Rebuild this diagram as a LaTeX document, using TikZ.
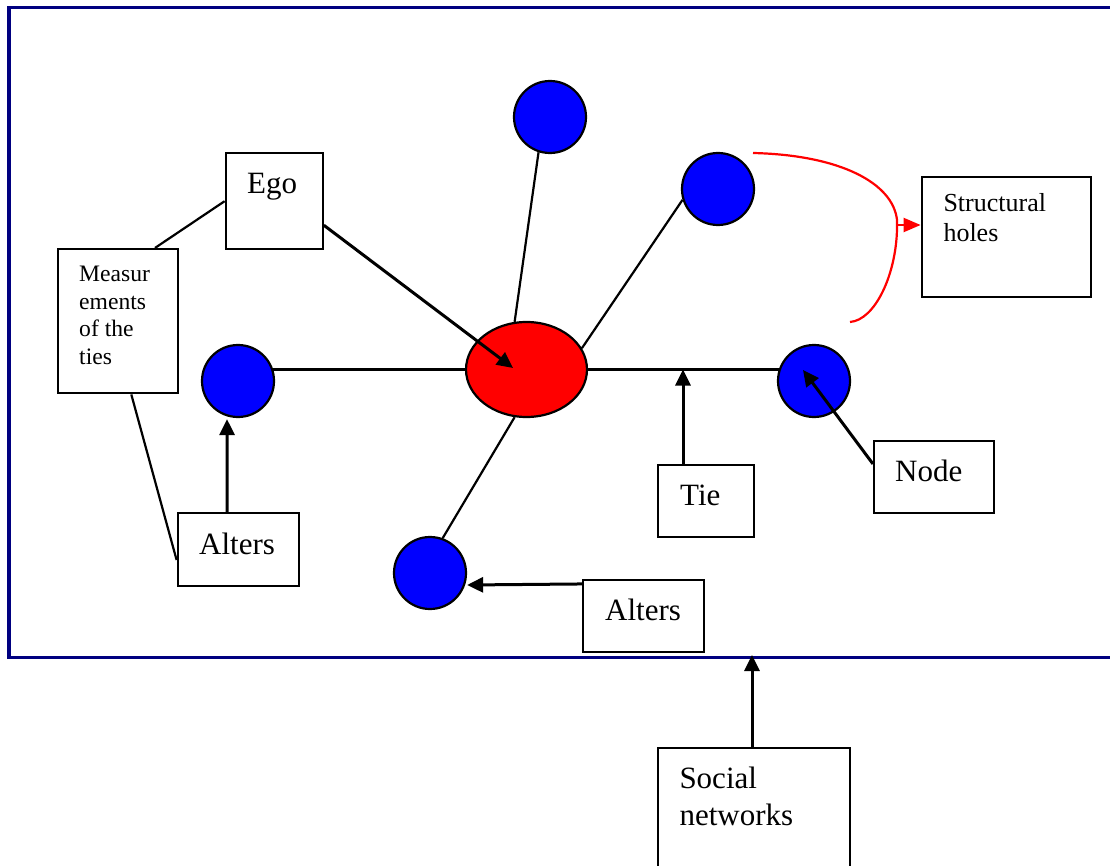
\documentclass[tikz,border=0pt]{standalone}
\usepackage{fontspec}
\setmainfont{Liberation Serif}
\usetikzlibrary{arrows.meta,calc,shapes.geometric,backgrounds}
\definecolor{framenavy}{RGB}{0,0,128}
\definecolor{alterblue}{RGB}{0,0,255}
\definecolor{egored}{RGB}{255,0,0}

\begin{document}
\begin{tikzpicture}[x=1pt,y=-1pt,
  box/.style={draw=black,line width=2.2pt,fill=white,inner sep=0pt},
  alter/.style={circle,draw=black,line width=2.2pt,fill=alterblue,minimum size=72pt,inner sep=0pt},
  egoshape/.style={ellipse,draw=black,line width=2.2pt,fill=egored,minimum width=121pt,minimum height=95pt,inner sep=0pt},
  tieline/.style={line width=2.2pt},
  pointer/.style={line width=3pt,-{Triangle[length=16pt,width=15pt]}},
  holeline/.style={egored,line width=2.2pt},
  holepointer/.style={egored,line width=2.2pt,-{Triangle[length=17pt,width=14pt]}},
  biglbl/.style={anchor=base west,inner sep=0pt,align=left,font=\fontsize{31}{37.5}\selectfont},
  measlbl/.style={anchor=base west,inner sep=0pt,align=left,font=\fontsize{23.6}{27.5}\selectfont},
  holelbl/.style={anchor=base west,inner sep=0pt,align=left,font=\fontsize{26}{30}\selectfont}
]
\useasboundingbox (0,0) rectangle (1110,866);
\clip (0,0) rectangle (1110,866);

% outer frame of the network (open on the right)
\draw[framenavy,line width=3.2pt] (1115,7.5) -- (9,7.5) -- (9,657.7) -- (1115,657.7);

% ego and alters
\node[egoshape] (egoNode) at (526.5,369.5) {};
\node[alter] (altTop) at (550,117) {};
\node[alter] (altUR) at (718,189) {};
\node[alter] (altL) at (238,381) {};
\node[alter] (altR) at (814,381) {};
\node[alter] (altB) at (430,573) {};

% ties
\begin{pgfonlayer}{background}
  \draw[tieline] (egoNode.center -| altL.center) -- (egoNode.center);
  \draw[tieline] (egoNode.center) -- (egoNode.center -| altR.center);
\end{pgfonlayer}
\draw[tieline] (altTop.-108) -- (egoNode.104.7);
\draw[tieline] (altUR.197) -- (egoNode.21.5);
\draw[tieline] (egoNode.-104.7) -- (altB.70.5);

% label boxes
\node[box,minimum width=97pt,minimum height=95.7pt] (egoBox) at (274.2,201.2) {};
\node[box,minimum width=120pt,minimum height=144.3pt] (measBox) at (118.3,321.2) {};
\node[box,minimum width=121pt,minimum height=72.4pt] (altersL) at (238.2,549.5) {};
\node[box,minimum width=121pt,minimum height=72.3pt] (altersB) at (643.8,616.2) {};
\node[box,minimum width=96.6pt,minimum height=71.7pt] (tieBox) at (706,501.2) {};
\node[box,minimum width=120.3pt,minimum height=72.3pt] (nodeBox) at (934.2,477.2) {};
\node[box,minimum width=169pt,minimum height=120pt] (holesBox) at (1006.2,237.3) {};
\node[box,minimum width=191.7pt,minimum height=152.4pt] (socialBox) at (754.2,823.9) {};

% box texts (base anchor sits on the last line)
\node[biglbl] (egoTxt) at (247,194) {Ego};
\node[measlbl] (measTxt) at (79,364.2) {Measur\\ements\\of the\\ties};
\node[biglbl] (altersLTxt) at (199,554) {Alters};
\node[biglbl] (altersBTxt) at (605,620) {Alters};
\node[biglbl] (tieTxt) at (680,505.7) {Tie};
\node[biglbl] (nodeTxt) at (895,481.7) {Node};
\node[holelbl] (holesTxt) at (943.3,241.7) {Structural\\holes};
\node[biglbl] (socialTxt) at (679.3,825.8) {Social\\networks};

% plain links between boxes
\draw[tieline] (egoBox.west) -- ([xshift=36.7pt]measBox.north);
\draw[tieline] ([xshift=13pt]measBox.south) -- ([yshift=-10.5pt]altersL.west);

% pointers
\coordinate (egoAim) at (513,368);
\coordinate (frameMark) at (752,655);
\draw[pointer] ([yshift=-24pt]egoBox.east) -- (egoAim);
\draw[pointer] ([xshift=-11pt]altersL.north) -- ([xshift=-11pt,yshift=-1pt]altL.south);
\draw[pointer] ([yshift=-5pt]altersB.north west) -- ([yshift=-12pt]altB.east);
\draw[pointer] ([xshift=-23pt]tieBox.north) -- ([xshift=-23pt]tieBox.north |- egoNode.center);
\draw[pointer] ([yshift=-24pt]nodeBox.north west) -- ([xshift=-11pt,yshift=11pt]altR.center);
\draw[pointer] (socialBox.north -| frameMark) -- (frameMark);

% structural holes bracket
\coordinate (holeTop) at (753,153);
\coordinate (holeBendA) at (897,220);
\coordinate (holeMid) at (897,225);
\coordinate (holeBendB) at (897,229);
\coordinate (holeBot) at (850,322);
\draw[holeline] (holeTop) .. controls (840,155) and (893,183) .. (holeBendA)
  -- (holeBendB) .. controls (896,275) and (875,320) .. (holeBot);
\draw[holepointer] (holeMid) -- (holeMid -| holesBox.west);
\end{tikzpicture}
\end{document}
